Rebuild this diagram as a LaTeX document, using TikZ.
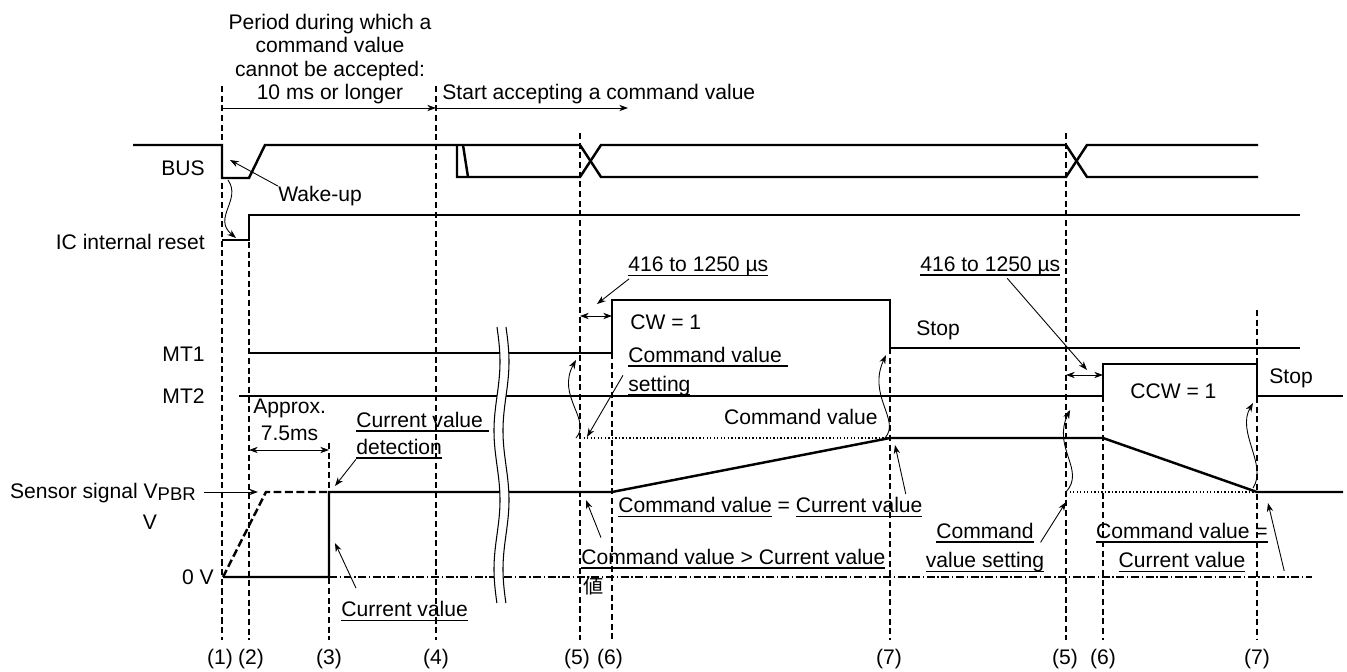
\documentclass[tikz,border=0pt]{standalone}
\usepackage{fontspec}
\setmainfont{Liberation Sans}
\newfontfamily\cjk{Noto Sans CJK JP}
\usetikzlibrary{arrows.meta, calc, positioning}

% underline with a heavier rule
\newcommand{\uln}[1]{\setbox0\hbox{#1}\rlap{\rule[-2.6pt]{\wd0}{0.9pt}}\box0\relax}

\begin{document}
\begin{tikzpicture}[x=0.02cm, y=-0.02cm, >={Stealth[length=5pt,width=3.6pt,inset=1.6pt]},
    font=\fontsize{12}{13.2}\selectfont,
    sig/.style={line width=1.4pt},
    tline/.style={line width=0.6pt, dash pattern=on 3.5pt off 2pt},
    lbl/.style={inner sep=0pt, text height=8.6pt, text depth=0pt},
    note/.style={inner sep=0pt, align=left, font=\fontsize{12}{16}\selectfont},
    pointer/.style={->, line width=0.5pt},
    wave/.style={->, line width=0.5pt}]
  \useasboundingbox (0,0) rectangle (1347,672);

  % time marks
  \foreach \nm/\x/\top/\n/\lx in {m1/222/86/1/220, m2/249/242/2/251, m3/329/443/3/329, m4/436/86/4/436,
      m5/580/133/5/577, m6/612/353/6/610, m7/890/348/7/889, mb5/1066/133/5/1065, mb6/1103/396/6/1103, mb7/1257/310/7/1257}{
    \draw[tline] (\x,\top) -- (\x,640);
    \node[lbl] (\nm) at (\lx,657) {(\n)};
  }

  % acceptance period
  \node[inner sep=0pt, align=center, anchor=north] (noacc) at (330,14) {Period during which a\\command value\\cannot be accepted:\\10 ms or longer};
  \node[lbl, anchor=west] (accept) at (442,91.5) {Start accepting a command value};
  \coordinate (p1) at (222,108);
  \coordinate (p4) at (436,108);
  \coordinate (p5) at (628,108);
  \draw[pointer] (p1) -- (p4);
  \draw[pointer] (p4) -- (p5);

  % signal names
  \node[lbl, anchor=east] (bus) at (205,168) {BUS};
  \node[lbl, anchor=east] (rst) at (205,242) {IC internal reset};
  \node[lbl, anchor=east] (mt1) at (205,354) {MT1};
  \node[lbl, anchor=east] (mt2) at (205,396) {MT2};
  \node[lbl, anchor=east] (sens) at (196,490.5) {Sensor signal V\raisebox{-1.3pt}{\fontsize{10.5}{12}\selectfont PBR}};
  \node[lbl] (unitv) at (150,522) {V};
  \node[lbl, anchor=east] (zero) at (214,577) {0 V};

  % BUS
  \draw[sig] (133,145) -- (222,145) -- (222,178) -- (249,178) -- (265,145) -- (580,145) -- (601,177)
    -- (1066,177) -- (1087,145) -- (1258,145);
  \draw[sig] (457,145) -- (457,177) -- (580,177) -- (601,145) -- (1066,145) -- (1087,177) -- (1258,177);
  \draw[sig] (463,145) -- (468,177);
  % IC internal reset
  \draw[sig] (222,240) -- (249,240) -- (249,215) -- (1300,215);
  % MT1, MT2
  \draw[sig] (249,353) -- (612,353) -- (612,300) -- (890,300) -- (890,348) -- (1300,348);
  \draw[sig] (239,396) -- (1103,396) -- (1103,364) -- (1257,364) -- (1257,396) -- (1343,396);
  % sensor signal
  \draw[line width=0.6pt, dash pattern=on 4.5pt off 1.5pt on 0.8pt off 1.5pt] (329,577) -- (1312,577);
  \draw[line width=0.8pt, dash pattern=on 0.8pt off 1.2pt] (580,438) -- (890,438);
  \draw[line width=0.8pt, dash pattern=on 0.8pt off 1.2pt] (1066,492) -- (1257,492);
  \draw[sig, dash pattern=on 4.5pt off 2pt] (223,577) -- (266,492) -- (329,492);
  \draw[sig] (223,577) -- (329,577) -- (329,492) -- (612,492) -- (890,438) -- (1103,438) -- (1257,492) -- (1343,492);

  % time break
  \fill[white] plot[variable=\t, domain=327:603, samples=50, smooth] ({497+3*sin((\t-327)*2.6)}, {\t})
    -- plot[variable=\t, domain=603:327, samples=50, smooth] ({506+3*sin((\t-327)*2.6)}, {\t}) -- cycle;
  \draw[line width=0.6pt] plot[variable=\t, domain=327:603, samples=50, smooth] ({497+3*sin((\t-327)*2.6)}, {\t});
  \draw[line width=0.6pt] plot[variable=\t, domain=327:603, samples=50, smooth] ({506+3*sin((\t-327)*2.6)}, {\t});

  % wake-up
  \node[lbl, anchor=west] (wake) at (278,194) {Wake-up};
  \coordinate (wakeTip) at (230,160);
  \draw[pointer] (wake.north west) -- (wakeTip);
  \coordinate (rstA) at (228,180);
  \coordinate (rstB) at (236,238);
  \draw[wave] (rstA) .. controls (242,200) and (212,218) .. (rstB);

  % sensor arrow
  \coordinate (vpbr) at (258,492);
  \draw[pointer, shorten <=4.5pt] (sens.east |- vpbr) -- (vpbr);

  % approx. 7.5 ms
  \node[lbl, anchor=west] (apx) at (253,405.5) {Approx.};
  \node[lbl] (apxms) at (289.5,433) {7.5ms};
  \coordinate (a2) at (249,450);
  \coordinate (a3) at (329,450);
  \draw[<->, line width=0.5pt] (a2) -- (a3);

  % current value
  \node[note, anchor=north west, font=\fontsize{12}{15.5}\selectfont] (cvdet) at (356,411.5) {\uln{Current value\ }\\\uln{detection}};
  \coordinate (cvdTip) at (335,486);
  \draw[pointer] (cvdet.south west) -- (cvdTip);
  \node[lbl, anchor=west] (cvnow) at (341,609) {\uln{Current value}};
  \coordinate (cvTip) at (335,543);
  \draw[pointer] ($(cvnow.north west)+(15,-13)$) -- (cvTip);

  % first command (CW)
  \node[lbl, anchor=west] (gapa) at (628,264) {\uln{416 to 1250 µs}};
  \coordinate (gaTip) at (597,304);
  \draw[pointer] ($(gapa.south west)+(1,7)$) -- (gaTip);
  \coordinate (ga1) at (580,316);
  \coordinate (ga2) at (612,316);
  \draw[<->, line width=0.5pt] (ga1) -- (ga2);
  \node[lbl, anchor=west] (cw) at (630,322) {CW = 1};
  \node[note, anchor=north west, font=\fontsize{12}{16.5}\selectfont] (cmdset) at (628,346.5) {\uln{Command value\ }\\\uln{setting}};
  \coordinate (csTip) at (587,437);
  \draw[pointer] ($(cmdset.west)+(-5,4)$) -- (csTip);
  \node[lbl, anchor=east] (cmdval) at (878,417) {Command value};
  \node[lbl, anchor=west] (eqa) at (618,505) {\uln{Command value} = \uln{Current value}};
  \coordinate (eqaTip) at (895,445);
  \draw[pointer] ($(eqa.north east)+(-17,-3)$) -- (eqaTip);
  \node[lbl, anchor=west] (gt) at (581,556.5) {\uln{Command value > Current value}};
  \node[lbl, anchor=west, font={\cjk\fontsize{11.5}{13}\selectfont}] (atai) at (583,586) {値};
  \coordinate (gtTip) at (586,500);
  \draw[pointer] ($(gt.north west)+(20,-11)$) -- (gtTip);
  \node[lbl, anchor=west] (stopa) at (916,327.5) {Stop};
  \coordinate (wa1) at (576,438);
  \coordinate (wa2) at (576,360);
  \draw[wave] (wa1) .. controls (592,420) and (556,396) .. (wa2);
  \coordinate (wb1) at (885,438);
  \coordinate (wb2) at (886,355);
  \draw[wave] (wb1) .. controls (901,420) and (867,396) .. (wb2);

  % second command (CCW)
  \node[lbl, anchor=west] (gapb) at (920,263.5) {\uln{416 to 1250 µs}};
  \coordinate (gbTip) at (1087,370);
  \draw[pointer] ($(gapb.south)+(17,7)$) -- (gbTip);
  \coordinate (gb1) at (1066,375);
  \coordinate (gb2) at (1103,375);
  \draw[<->, line width=0.5pt] (gb1) -- (gb2);
  \node[lbl, anchor=west] (ccw) at (1130,391) {CCW = 1};
  \node[lbl, anchor=west] (stopb) at (1269,376) {Stop};
  \coordinate (wc1) at (1066,492);
  \coordinate (wc2) at (1070,410);
  \draw[wave] (wc1) .. controls (1086,470) and (1052,448) .. (wc2);
  \coordinate (wd1) at (1253,488);
  \coordinate (wd2) at (1253,403);
  \draw[wave] (wd1) .. controls (1268,465) and (1236,432) .. (wd2);
  \node[note, anchor=north, align=center, font=\fontsize{12}{17}\selectfont] (cmdsetb) at (985,522.4) {\uln{Command}\\\uln{value setting}};
  \coordinate (csbTip) at (1066,502);
  \draw[pointer] ($(cmdsetb.north east)+(-4,20)$) -- (csbTip);
  \node[note, anchor=north, align=center, font=\fontsize{12}{17}\selectfont] (eqb) at (1182,522.4) {\uln{Command value =}\\\uln{Current value}};
  \coordinate (eqbTip) at (1268,503);
  \draw[pointer] ($(eqb.south east)+(16,-2)$) -- (eqbTip);
\end{tikzpicture}
\end{document}
